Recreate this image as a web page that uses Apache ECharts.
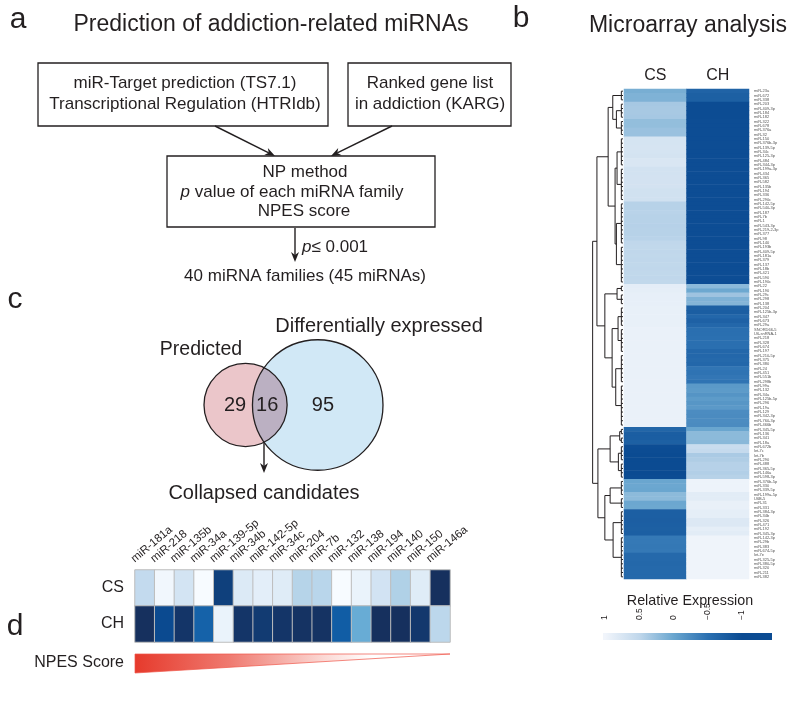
<!DOCTYPE html>
<html><head><meta charset="utf-8">
<script src="https://cdn.jsdelivr.net/npm/echarts@6/dist/echarts.min.js"></script>
<style>html,body{margin:0;padding:0;background:#fff}#c{width:787px;height:701px}</style>
</head><body><div id="c"></div>
<script>
const FONT = "'Liberation Sans', Arial, Helvetica, sans-serif";
const INK = '#231f20';

// ---------- Panel b : microarray heatmap ----------
const colLabelsB = ['CS', 'CH'];
const rowLabels = [
'miR-23a','miR-672','miR-338','miR-203','miR-409-3p','miR-184','miR-182','miR-322','miR-678','miR-376a',
'miR-32','miR-150','miR-376b-3p','miR-139-5p','miR-34c','miR-125-3p','miR-484','miR-344-3p','miR-199a-3p','miR-434',
'miR-365','miR-582','miR-135b','miR-194','miR-336','miR-290c','miR-142-5p','miR-540-3p','miR-187','miR-7b',
'miR-1','miR-543-3p','miR-219-2-3p','miR-377','miR-98','miR-140','miR-193b','miR-409-5p','miR-181a','miR-379',
'miR-137','miR-18b','miR-421','miR-590','miR-190c','miR-22','miR-190','miR-29c','miR-298','miR-138',
'miR-204','miR-125b-3p','miR-347','miR-673','miR-29a','SNORD66-5','U6-snRNA-1','miR-218','miR-328','miR-674',
'miR-197','miR-210-5p','miR-375','miR-380','miR-24','miR-451','miR-551b','miR-298b','miR-99a','miR-132',
'miR-34a','miR-125b-5p','miR-296','miR-19a','miR-129','miR-342-3p','miR-760-3p','miR-466b','miR-345-5p','miR-136',
'miR-341','miR-18a','miR-672b','let-7c','let-7b','miR-290','miR-488','miR-365-5p','miR-146a','miR-598-3p',
'miR-376b-5p','miR-330','miR-339-5p','miR-199a-5p','U6B-5','miR-31','miR-331','miR-384-3p','miR-34b','miR-326',
'miR-471','miR-192','miR-345-3p','miR-142-3p','miR-29b','miR-383','miR-674-5p','let-7e','miR-325-5p','miR-380-5p',
'miR-320','miR-211','miR-382'];
const csValues = [
 0.08,0.12,0.12, 0.35,0.36,0.36,0.35, 0.24,0.24,0.28,0.28,
 0.71,0.71,0.72,0.71,0.70, 0.75,0.75, 0.68,0.68, 0.69,0.69,0.69, 0.66,0.66,0.66,
 0.45,0.45,0.46,0.45,0.45,0.44,0.45,0.45,0.46, 0.50,0.51,0.50,0.51,0.50,0.51,0.50,0.51,0.50,0.51,
 0.87,0.88,0.90,0.90,0.90, 0.91,0.91,0.91,0.91,0.91,
 0.93,0.93,0.93,0.93,0.93, 0.93,0.93,0.93,0.93, 0.93,0.93,0.93,0.93,
 0.93,0.93,0.93,0.93,0.93,0.93, 0.93,0.93,0.93,0.93,
 -0.64,-0.75,-0.75,-0.72,
 -0.97,-0.98,-1,-1,-1,-1,-1,-0.99,
 0.00,0.01,0.00,0.20,0.20,0.01,0.02,
 -0.73,-0.73,-0.74,-0.73,-0.72,-0.73,
 -0.42,-0.42,-0.43,-0.42,
 -0.60,-0.60,-0.61,-0.60,-0.60,-0.60];
const chValues = [
 -0.67,-0.72,-0.72,
 -0.98,-0.98,-0.98,-0.98, -0.97,-0.97,-0.97,-0.97,
 -0.97,-0.97,-0.97,-0.97,-0.97, -0.97,-0.97, -0.97,-0.97, -0.97,-0.97,-0.97, -0.97,-0.97,-0.97,
 -0.97,-0.97,-0.97,-0.97,-0.97,-0.97,-0.97,-0.97,-0.97, -0.97,-0.97,-0.97,-0.97,-0.97,-0.97,-0.97,-0.97,-0.97,-0.97,
 0.20,0.02,0.30,0.12,0.15,
 -0.72,-0.75,-0.62,-0.70,-0.62,
 -0.52,-0.52,-0.50,-0.52,-0.52, -0.62,-0.62,-0.60,-0.62, -0.45,-0.47,-0.44,-0.47,
 -0.12,-0.10,-0.17,-0.10,-0.15,-0.12, -0.24,-0.25,-0.24,-0.25,
 0.00,0.20,0.20,0.18,
 0.59,0.55,0.37,0.40,0.44,0.44,0.42,0.45,
 0.96,0.96,0.96,0.85,0.85,0.92,0.92,
 0.88,0.88,0.79,0.79,0.88,0.85,
 0.98,0.98,0.98,0.98,0.98,0.98,0.98,0.98,0.98,0.98];
const relTicks = [1, 0.5, 0, -0.5, -1];
const relColors = ['#0b4b92', '#2b70b1', '#6aa6cf', '#c0d7eb', '#f1f5fb']; // -1 .. 1

// dendrogram (row clustering): {h: merge height, c: children}; [a,b] = leaf block
const dendroTree = {h: 9.2, c: [
  {h: 7.9, c: [
    {h: 4.5, c: [
      {h: 3.1, c: [[0, 2], {h: 2.0, c: [[3, 6], [7, 10]]}]},
      {h: 2.4, c: [{h: 1.8, c: [[11, 17], [18, 25]]}, {h: 2.0, c: [[26, 35], [36, 44]]}]}]},
    {h: 5.5, c: [
      {h: 1.8, c: [[45, 46], [47, 49]]},
      {h: 3.3, c: [{h: 1.5, c: [[50, 54], [55, 60]]}, {h: 2.2, c: [[61, 67], [68, 77]]}]}]}]},
  {h: 7.6, c: [
    {h: 3.9, c: [{h: 1.0, c: [[78, 79], [80, 81]]}, {h: 1.4, c: [[82, 85], [86, 89]]}]},
    {h: 5.5, c: [{h: 3.9, c: [[90, 93], [94, 96]]}, {h: 3.0, c: [[97, 102], [103, 112]]}]}]}
]};
const LEAF_H = 0.5;

// ---------- Panel c : Venn ----------
const vennNames = ['Predicted', 'Differentially expressed'];
const vennCounts = [29, 16, 95];   // predicted only, both, differential only
const vennLabelX = [-1.7, 3.5, 12.5];
const vennGap = 11.65;

// ---------- Panel d : collapsed candidates ----------
const candidates = ['miR-181a','miR-218','miR-135b','miR-34a','miR-139-5p','miR-34b','miR-142-5p','miR-34c',
  'miR-204','miR-7b','miR-132','miR-138','miR-194','miR-140','miR-150','miR-146a'];
const rowsD = ['CS', 'CH'];
const csD = [0.26,0.03,0.18,0.0,0.94,0.135,0.10,0.12,0.30,0.29,0.0,0.065,0.185,0.32,0.12,1.0];
const chD = [1.0,0.90,0.98,0.81,0.065,0.98,0.96,0.98,0.99,0.99,0.83,0.51,1.0,1.0,0.97,0.28];

// ---------- build ----------
const heatB = [];
csValues.forEach((v, i) => heatB.push([0, i, v]));
chValues.forEach((v, i) => heatB.push([1, i, v]));
const heatD = [];
csD.forEach((v, i) => heatD.push([i, 0, v]));
chD.forEach((v, i) => heatD.push([i, 1, v]));

const dendroSegs = [];
function walk(n) {
  if (Array.isArray(n)) {
    const [a, b] = n;
    if (a === b) return {y: a, h: 0};
    for (let i = a; i <= b; i++) dendroSegs.push([0, i, LEAF_H, i]);
    dendroSegs.push([LEAF_H, a, LEAF_H, b]);
    return {y: (a + b) / 2, h: LEAF_H};
  }
  const kids = n.c.map(walk);
  kids.forEach(k => dendroSegs.push([k.h, k.y, n.h, k.y]));
  const ys = kids.map(k => k.y);
  dendroSegs.push([n.h, Math.min(...ys), n.h, Math.max(...ys)]);
  return {y: (kids[0].y + kids[kids.length - 1].y) / 2, h: n.h};
}
walk(dendroTree);

function txt(x, y, text, size, opt) {
  opt = opt || {};
  return {type: 'text', x, y, z: 10, style: Object.assign({
    text, fontSize: size, fontFamily: FONT, fill: INK,
    align: opt.align || 'center', verticalAlign: 'middle',
    textAlign: opt.align || 'center', textVerticalAlign: 'middle'}, opt.style || {})};
}
function box(x, y, w, h) {
  return {type: 'rect', shape: {x, y, width: w, height: h}, style: {fill: 'none', stroke: INK, lineWidth: 1.3}};
}
function arrow(x1, y1, x2, y2) {
  const head = 10, hw = 4;
  const ang = Math.atan2(y2 - y1, x2 - x1);
  const bx = x2 - head * Math.cos(ang), by = y2 - head * Math.sin(ang);
  const px = -Math.sin(ang) * hw, py = Math.cos(ang) * hw;
  const nx = x2 - head * 0.7 * Math.cos(ang), ny = y2 - head * 0.7 * Math.sin(ang);
  return [
    {type: 'line', shape: {x1, y1, x2: nx, y2: ny}, style: {stroke: INK, lineWidth: 1.4}},
    {type: 'polygon', shape: {points: [[x2, y2], [bx + px, by + py], [nx, ny], [bx - px, by - py]]}, style: {fill: INK}}
  ];
}

// colorbar geometry (axis 1 .. -1 spans tick area; bar a bit wider)
const cbAxisLeft = 605, cbAxisWidth = 137, cbBarLeft = 603, cbBarWidth = 169;
function cbOffset(v) { return (cbAxisLeft + (1 - v) / 2 * cbAxisWidth - cbBarLeft) / cbBarWidth; }
const cbStops = [{offset: 0, color: relColors[4]}];
relTicks.forEach(v => cbStops.push({offset: cbOffset(v), color: relColors[Math.round((v + 1) * 2)]}));
cbStops.push({offset: 1, color: relColors[0]});

const graphics = [
  txt(18, 20, 'a', 30), txt(521, 19, 'b', 30), txt(15, 300, 'c', 30), txt(15, 627, 'd', 30),
  txt(271, 25, 'Prediction of addiction-related miRNAs', 23),
  txt(688, 26, 'Microarray analysis', 23),
  box(38, 63, 290, 63), box(348, 63, 163, 63), box(167, 156, 268, 71),
  txt(185, 83, 'miR-Target prediction (TS7.1)', 17),
  txt(185, 104, 'Transcriptional Regulation (HTRIdb)', 17),
  txt(430, 83, 'Ranked gene list', 17),
  txt(430, 104, 'in addiction (KARG)', 17),
  txt(305, 172, 'NP method', 17),
  {type: 'text', x: 292, y: 192, z: 10, style: {text: '{i|p} value of each miRNA family', fontSize: 17, fontFamily: FONT, fill: INK,
    align: 'center', verticalAlign: 'middle', textAlign: 'center', textVerticalAlign: 'middle',
    rich: {i: {fontStyle: 'italic', fontSize: 17, fontFamily: FONT, fill: INK}}}},
  txt(304, 211, 'NPES score', 17),
  {type: 'text', x: 302, y: 247, z: 10, style: {text: '{i|p}≤ 0.001', fontSize: 17, fontFamily: FONT, fill: INK,
    align: 'left', verticalAlign: 'middle', textAlign: 'left', textVerticalAlign: 'middle',
    rich: {i: {fontStyle: 'italic', fontSize: 17, fontFamily: FONT, fill: INK}}}},
  txt(305, 276, '40 miRNA families (45 miRNAs)', 17),
  ...arrow(215, 126, 275, 156),
  ...arrow(392, 126, 331, 156),
  ...arrow(295, 228, 295, 262),
  txt(201, 350, vennNames[0], 19.5),
  txt(379, 326, vennNames[1], 20),
  ...arrow(264, 413, 264, 473),
  txt(264, 493, 'Collapsed candidates', 20),
  txt(690, 601, 'Relative Expression', 14.3),
  {type: 'rect', shape: {x: cbBarLeft, y: 633, width: cbBarWidth, height: 7},
   style: {fill: new echarts.graphic.LinearGradient(0, 0, 1, 0, cbStops)}},
  {type: 'polygon', shape: {points: [[135, 654], [450, 654], [135, 673]]},
   style: {stroke: '#ef5548', lineWidth: 0.7,
     fill: new echarts.graphic.LinearGradient(0, 0, 1, 0, [
       {offset: 0, color: '#e63a2c'}, {offset: 0.3, color: '#ef7a70'},
       {offset: 0.6, color: '#fbd9d5'}, {offset: 0.75, color: '#ffffff'}, {offset: 1, color: '#ffffff'}])}},
  txt(124, 663, 'NPES Score', 16, {align: 'right'})
];

const chart = echarts.init(document.getElementById('c'), null, {renderer: 'canvas'});
const noAxis = {axisLine: {show: false}, axisTick: {show: false}, splitLine: {show: false}};
const r1 = Math.sqrt(vennCounts[0] + vennCounts[1]);
const r2 = Math.sqrt(vennCounts[1] + vennCounts[2]);
const LABEL_ROT = 40 * Math.PI / 180;

chart.setOption({
  animation: false,
  textStyle: {fontFamily: FONT},
  grid: [
    {left: 590, top: 89, width: 33, height: 490},
    {left: 624, top: 89, width: 125, height: 490},
    {left: cbAxisLeft, top: 633, width: cbAxisWidth, height: 7},
    {left: 204, top: 340, width: 179, height: 130},
    {left: 135, top: 570, width: 315, height: 72}
  ],
  xAxis: [
    {gridIndex: 0, type: 'value', min: 0, max: 10, inverse: true, show: false},
    Object.assign({gridIndex: 1, type: 'category', data: colLabelsB, position: 'top',
      axisLabel: {fontSize: 16, color: INK, margin: 5, fontFamily: FONT}}, noAxis),
    Object.assign({gridIndex: 2, type: 'value', min: -1, max: 1, interval: 0.5, inverse: true, position: 'top',
      axisLabel: {rotate: 90, fontSize: 8.5, color: INK, margin: 13, fontFamily: FONT,
        formatter: v => (v < 0 ? '\u2212' + Math.abs(v) : String(v))}}, noAxis),
    {gridIndex: 3, type: 'value', min: -r1, max: vennGap + r2, show: false},
    {gridIndex: 4, type: 'category', data: candidates, position: 'top', show: false}
  ],
  yAxis: [
    {gridIndex: 0, type: 'value', min: -0.5, max: rowLabels.length - 0.5, inverse: true, show: false},
    Object.assign({gridIndex: 1, type: 'category', data: rowLabels, inverse: true, position: 'right',
      axisLabel: {fontSize: 4, interval: 0, color: '#555', margin: 5, fontFamily: FONT}}, noAxis),
    {gridIndex: 2, type: 'value', show: false},
    {gridIndex: 3, type: 'value', min: -r2, max: r2, show: false},
    Object.assign({gridIndex: 4, type: 'category', data: rowsD, inverse: true,
      axisLabel: {fontSize: 16, color: INK, margin: 11, fontFamily: FONT}}, noAxis)
  ],
  visualMap: [
    {type: 'continuous', seriesIndex: 1, min: -1, max: 1, show: false, inRange: {color: relColors}},
    {type: 'continuous', seriesIndex: 3, min: 0, max: 1, show: false,
     inRange: {color: ['#f7fbff','#deebf7','#c6dbef','#9ecae1','#6baed6','#4292c6','#2171b5','#08519c','#16305e']}}
  ],
  series: [
    {type: 'custom', xAxisIndex: 0, yAxisIndex: 0, data: dendroSegs, encode: {x: [0, 2], y: [1, 3]},
     renderItem: (p, api) => {
       const a = api.coord([api.value(0), api.value(1)]);
       const b = api.coord([api.value(2), api.value(3)]);
       return {type: 'line', shape: {x1: a[0], y1: a[1], x2: b[0], y2: b[1]},
         style: {stroke: INK, lineWidth: 1}};
     }},
    {type: 'heatmap', xAxisIndex: 1, yAxisIndex: 1, data: heatB, itemStyle: {borderWidth: 0}},
    {type: 'custom', xAxisIndex: 3, yAxisIndex: 3, data: [[0, 0], [vennGap, 0]],
     renderItem: (p, api) => {
       if (p.dataIndex !== 0) return {type: 'group', children: []};
       const c1 = api.coord([0, 0]), c2 = api.coord([vennGap, 0]);
       const R1 = api.size([r1, r1])[0], R2 = api.size([r2, r2])[0];
       const d = c2[0] - c1[0];
       const a = (d * d + R1 * R1 - R2 * R2) / (2 * d);
       const h = Math.sqrt(R1 * R1 - a * a);
       const pts = [];
       const t0 = Math.atan2(-h, a), t1 = Math.atan2(h, a);
       for (let k = 0; k <= 40; k++) { const t = t0 + (t1 - t0) * k / 40; pts.push([c1[0] + R1 * Math.cos(t), c1[1] + R1 * Math.sin(t)]); }
       const f0 = Math.atan2(h, a - d), f1 = Math.atan2(-h, a - d) + 2 * Math.PI;
       for (let k = 0; k <= 40; k++) { const t = f0 + (f1 - f0) * k / 40; pts.push([c2[0] + R2 * Math.cos(t), c2[1] + R2 * Math.sin(t)]); }
       const ch = [
         {type: 'circle', shape: {cx: c1[0], cy: c1[1], r: R1}, style: {fill: '#ebc6ca'}},
         {type: 'circle', shape: {cx: c2[0], cy: c2[1], r: R2}, style: {fill: '#d1e8f6'}},
         {type: 'polygon', shape: {points: pts}, style: {fill: '#bbb0c2'}},
         {type: 'circle', shape: {cx: c1[0], cy: c1[1], r: R1}, style: {fill: 'none', stroke: INK, lineWidth: 1.3}},
         {type: 'circle', shape: {cx: c2[0], cy: c2[1], r: R2}, style: {fill: 'none', stroke: INK, lineWidth: 1.3}}
       ];
       vennCounts.forEach((n, i) => {
         const q = api.coord([vennLabelX[i], 0]);
         ch.push({type: 'text', x: q[0], y: q[1], style: {text: String(n), fontSize: 20, fontFamily: FONT, fill: INK,
           align: 'center', verticalAlign: 'middle', textAlign: 'center', textVerticalAlign: 'middle'}});
       });
       return {type: 'group', children: ch};
     }},
    {type: 'heatmap', xAxisIndex: 4, yAxisIndex: 4, data: heatD,
     itemStyle: {borderColor: '#bdbdbd', borderWidth: 1}},
    // rotated column labels of panel d, anchored at each cell's upper-left corner
    {type: 'custom', xAxisIndex: 4, yAxisIndex: 4, clip: false, silent: true,
     data: candidates.map((c, i) => [i, 0]),
     renderItem: (p, api) => {
       const c = api.coord([api.value(0), api.value(1)]);
       const w = api.size([1, 1]);
       const x = c[0] - w[0] / 2 + 1.5, y = c[1] - w[1] / 2 - 5;
       return {type: 'text', x, y, rotation: LABEL_ROT,
         style: {text: candidates[p.dataIndex], fontSize: 11.5, fontFamily: FONT, fill: INK,
           align: 'left', verticalAlign: 'bottom', textAlign: 'left', textVerticalAlign: 'bottom'}};
     }}
  ],
  graphic: graphics
});
</script></body></html>
